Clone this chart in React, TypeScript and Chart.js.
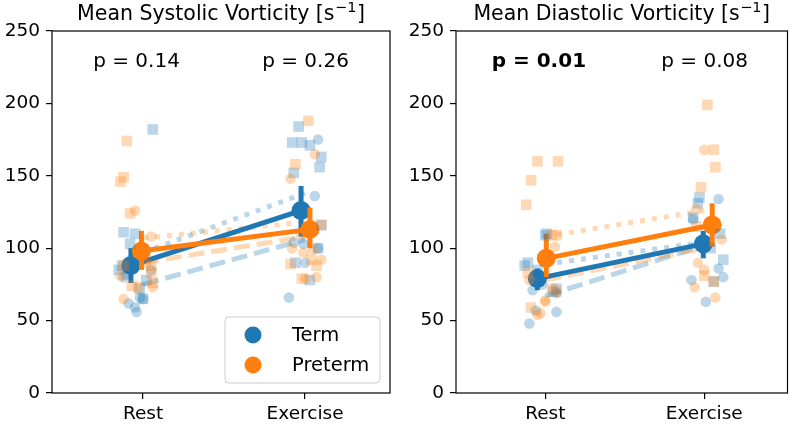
import React, { useEffect, useRef } from 'react';
import { Chart, registerables } from 'chart.js';
Chart.register(...registerables);

type P = [number, number]; // [jitter, value]

const categories = ['Rest', 'Exercise'];
const groupNames = ['Term', 'Preterm'];
const yMin = 0;
const yMax = 250;
const yStep = 50;

// ---------- Mean Systolic Vorticity ----------
const sysTermSqRest: P[] = [[-0.13, 88], [-0.15, 85], [-0.12, 111], [-0.05, 110], [-0.08, 103], [0.06, 182], [-0.02, 72], [0.0, 65], [-0.1, 82], [0.02, 78]];
const sysTermCiRest: P[] = [[-0.09, 62], [-0.05, 59], [-0.04, 56], [-0.02, 66], [0.0, 65], [-0.12, 80], [0.05, 85]];
const sysPreSqRest: P[] = [[-0.1, 174], [-0.12, 149], [-0.14, 146], [-0.08, 124], [0.05, 88], [0.05, 83], [-0.07, 74], [-0.03, 73], [0.06, 76], [0.0, 97], [-0.12, 88]];
const sysPreCiRest: P[] = [[-0.05, 126], [0.05, 108], [-0.12, 65], [0.06, 73], [-0.14, 81], [0.02, 90]];
const sysTermSqEx: P[] = [[-0.04, 184], [-0.08, 173], [-0.02, 173], [0.03, 171], [0.1, 163], [0.09, 156], [-0.07, 152], [0.1, 116], [-0.06, 90], [0.03, 78], [0.08, 100]];
const sysTermCiEx: P[] = [[0.08, 175], [0.06, 136], [-0.07, 104], [-0.01, 103], [0.08, 100], [0.0, 90], [-0.1, 66]];
const sysPreSqEx: P[] = [[0.02, 188], [-0.06, 158], [0.1, 116], [-0.09, 89], [0.07, 88], [-0.02, 79], [0.04, 92]];
const sysPreCiEx: P[] = [[0.06, 165], [-0.09, 148], [-0.08, 100], [-0.01, 97], [0.05, 99], [0.1, 92], [0.0, 79], [0.07, 80], [-0.03, 110]];
const sysTermMean = [88, 126];
const sysTermLo = [76, 108];
const sysTermHi = [100, 143];
const sysPreMean = [98, 113];
const sysPreLo = [85, 100];
const sysPreHi = [112, 128];
const sysTermDodge = [-0.075, -0.025];
const sysPreDodge = [-0.01, 0.03];
const sysTermDot = [97, 138];
const sysTermDash = [75, 106];
const sysPreDot = [107, 118];
const sysPreDash = [90, 108];
const sysPText = ['p = 0.14', 'p = 0.26'];
const sysPBold = [false, false];

// ---------- Mean Diastolic Vorticity ----------
const diaTermSqRest: P[] = [[0.01, 110], [-0.11, 90], [-0.13, 88], [0.07, 72], [0.05, 70], [0.0, 109], [-0.05, 85]];
const diaTermCiRest: P[] = [[-0.1, 48], [-0.06, 57], [0.07, 56], [-0.08, 71], [0.07, 69], [-0.02, 75]];
const diaPreSqRest: P[] = [[-0.05, 160], [0.08, 160], [-0.09, 147], [-0.12, 130], [-0.09, 59], [0.04, 109], [0.07, 109], [-0.11, 83], [0.04, 72], [0.07, 70]];
const diaPreCiRest: P[] = [[0.06, 101], [0.0, 63], [-0.03, 55], [-0.05, 54], [0.0, 64], [-0.1, 78]];
const diaTermSqEx: P[] = [[-0.03, 135], [-0.04, 131], [0.12, 92], [0.06, 77], [0.1, 110], [-0.07, 121], [0.04, 100]];
const diaTermCiEx: P[] = [[0.09, 134], [0.01, 63], [-0.08, 78], [0.12, 80], [0.09, 86], [-0.07, 120]];
const diaPreSqEx: P[] = [[0.02, 199], [0.06, 168], [0.07, 156], [-0.02, 142], [0.0, 81], [0.06, 77], [-0.05, 115]];
const diaPreCiEx: P[] = [[0.0, 168], [0.07, 66], [-0.06, 73], [-0.04, 90], [0.0, 85], [0.11, 106], [-0.05, 127], [0.05, 118]];
const diaTermMean = [79, 103];
const diaTermLo = [71, 93];
const diaTermHi = [86, 112];
const diaPreMean = [93, 116];
const diaPreLo = [80, 101];
const diaPreHi = [110, 131];
const diaTermDodge = [-0.05, -0.006];
const diaPreDodge = [0.006, 0.05];
const diaTermDot = [89, 104];
const diaTermDash = [67, 102];
const diaPreDot = [108, 126];
const diaPreDash = [78, 100];
const diaPText = ['p = 0.01', 'p = 0.08'];
const diaPBold = [true, false];

const BLUE = '#1f77b4';
const ORANGE = '#ff7f0e';
const BLUE_A = 'rgba(31,119,180,0.3)';
const ORANGE_A = 'rgba(255,127,14,0.3)';
const FONT = '"DejaVu Sans", sans-serif';

interface GroupData {
  sqRest: P[]; ciRest: P[]; sqEx: P[]; ciEx: P[];
  mean: number[]; lo: number[]; hi: number[]; dodge: number[];
  dot: number[]; dash: number[];
}
interface PanelData {
  title: string;
  groups: GroupData[];
  pText: string[];
  pBold: boolean[];
  legend: boolean;
}

const panels: PanelData[] = [
  {
    title: 'Mean Systolic Vorticity [s',
    groups: [
      { sqRest: sysTermSqRest, ciRest: sysTermCiRest, sqEx: sysTermSqEx, ciEx: sysTermCiEx, mean: sysTermMean, lo: sysTermLo, hi: sysTermHi, dodge: sysTermDodge, dot: sysTermDot, dash: sysTermDash },
      { sqRest: sysPreSqRest, ciRest: sysPreCiRest, sqEx: sysPreSqEx, ciEx: sysPreCiEx, mean: sysPreMean, lo: sysPreLo, hi: sysPreHi, dodge: sysPreDodge, dot: sysPreDot, dash: sysPreDash },
    ],
    pText: sysPText,
    pBold: sysPBold,
    legend: true,
  },
  {
    title: 'Mean Diastolic Vorticity [s',
    groups: [
      { sqRest: diaTermSqRest, ciRest: diaTermCiRest, sqEx: diaTermSqEx, ciEx: diaTermCiEx, mean: diaTermMean, lo: diaTermLo, hi: diaTermHi, dodge: diaTermDodge, dot: diaTermDot, dash: diaTermDash },
      { sqRest: diaPreSqRest, ciRest: diaPreCiRest, sqEx: diaPreSqEx, ciEx: diaPreCiEx, mean: diaPreMean, lo: diaPreLo, hi: diaPreHi, dodge: diaPreDodge, dot: diaPreDot, dash: diaPreDash },
    ],
    pText: diaPText,
    pBold: diaPBold,
    legend: false,
  },
];

const colors = [BLUE, ORANGE];
const colorsA = [BLUE_A, ORANGE_A];

function pts(rest: P[], ex: P[]) {
  return [
    ...rest.map(([j, v]) => ({ x: 0 + j, y: v })),
    ...ex.map(([j, v]) => ({ x: 1 + j, y: v })),
  ];
}

function buildDatasets(panel: PanelData) {
  const ds: any[] = [];
  // subgroup lines
  panel.groups.forEach((g, gi) => {
    ds.push({
      data: [{ x: 0, y: g.dot[0] }, { x: 1, y: g.dot[1] }],
      showLine: true, borderColor: colorsA[gi], borderWidth: 5, borderDash: [5, 7],
      pointRadius: 0, borderCapStyle: 'butt',
    });
    ds.push({
      data: [{ x: 0, y: g.dash[0] }, { x: 1, y: g.dash[1] }],
      showLine: true, borderColor: colorsA[gi], borderWidth: 5, borderDash: [16, 7],
      pointRadius: 0, borderCapStyle: 'butt',
    });
  });
  // means + error bars
  panel.groups.forEach((g, gi) => {
    ds.push({
      data: g.mean.map((m, i) => ({ x: i + g.dodge[i], y: m })),
      showLine: true, borderColor: colors[gi], borderWidth: 5,
      pointRadius: 9.5, pointBackgroundColor: colors[gi], pointBorderWidth: 0,
    });
    g.mean.forEach((_, i) => {
      ds.push({
        data: [{ x: i + g.dodge[i], y: g.lo[i] }, { x: i + g.dodge[i], y: g.hi[i] }],
        showLine: true, borderColor: colors[gi], borderWidth: 5, pointRadius: 0,
      });
    });
  });
  // scatter points on top
  panel.groups.forEach((g, gi) => {
    ds.push({
      data: pts(g.sqRest, g.sqEx), showLine: false, pointStyle: 'rect',
      pointRadius: 7.5, pointBackgroundColor: colorsA[gi], pointBorderWidth: 0,
    });
    ds.push({
      data: pts(g.ciRest, g.ciEx), showLine: false, pointStyle: 'circle',
      pointRadius: 5.3, pointBackgroundColor: colorsA[gi], pointBorderWidth: 0,
    });
  });
  ds.forEach((d, i) => { d.order = -i; d.clip = false; });
  return ds;
}

function Panel({ panel, left, width, yAxisWidth, rightPad }: { panel: PanelData; left: number; width: number; yAxisWidth: number; rightPad: number }) {
  const ref = useRef<HTMLCanvasElement>(null);
  useEffect(() => {
    const canvas = ref.current!;
    const decor = {
      id: 'decor',
      afterDraw(chart: any) {
        const { ctx, chartArea: a } = chart;
        ctx.save();
        // frame
        ctx.strokeStyle = '#000';
        ctx.lineWidth = 1.2;
        ctx.strokeRect(a.left, a.top, a.right - a.left, a.bottom - a.top);
        // title
        ctx.fillStyle = '#000';
        ctx.textBaseline = 'alphabetic';
        ctx.font = `20.5px ${FONT}`;
        const mainW = ctx.measureText(panel.title).width;
        ctx.font = `14.5px ${FONT}`;
        const supW = ctx.measureText('\u22121').width;
        ctx.font = `20.5px ${FONT}`;
        const tailW = ctx.measureText(']').width;
        const total = mainW + supW + 1 + tailW;
        let tx = (a.left + a.right) / 2 - total / 2;
        const ty = 20;
        ctx.textAlign = 'left';
        ctx.fillText(panel.title, tx, ty);
        tx += mainW + 0.5;
        ctx.font = `14.5px ${FONT}`;
        ctx.fillText('\u22121', tx, ty - 8);
        tx += supW + 0.5;
        ctx.font = `20.5px ${FONT}`;
        ctx.fillText(']', tx, ty);
        // p-values
        const w = a.right - a.left;
        const h = a.bottom - a.top;
        ctx.textAlign = 'center';
        panel.pText.forEach((t, i) => {
          ctx.font = `${panel.pBold[i] ? 'bold ' : ''}20px ${FONT}`;
          ctx.fillText(t, a.left + (i === 0 ? 0.25 : 0.75) * w, a.top + 0.0995 * h);
        });
        // legend
        if (panel.legend) {
          const bw = 155, bh = 66;
          const bx = a.right - 10 - bw;
          const by = a.bottom - 10 - bh;
          ctx.beginPath();
          ctx.roundRect(bx, by, bw, bh, 4);
          ctx.fillStyle = 'rgba(255,255,255,0.8)';
          ctx.fill();
          ctx.strokeStyle = '#cccccc';
          ctx.lineWidth = 1;
          ctx.stroke();
          groupNames.forEach((name, i) => {
            const cy = by + 18 + i * 30;
            ctx.beginPath();
            ctx.arc(bx + 28, cy, 8.5, 0, Math.PI * 2);
            ctx.fillStyle = colors[i];
            ctx.fill();
            ctx.fillStyle = '#000';
            ctx.font = `19.5px ${FONT}`;
            ctx.textAlign = 'left';
            ctx.textBaseline = 'middle';
            ctx.fillText(name, bx + 67, cy + 1);
          });
        }
        ctx.restore();
      },
    };
    const chart = new Chart(canvas, {
      type: 'scatter',
      data: { datasets: buildDatasets(panel) },
      options: {
        animation: false,
        responsive: false,
        devicePixelRatio: 1,
        layout: { padding: { top: 31, right: rightPad, bottom: 0, left: 0 } },
        plugins: { legend: { display: false }, tooltip: { enabled: false }, title: { display: false } },
        scales: {
          x: {
            type: 'linear', min: -0.562, max: 1.524,
            afterBuildTicks: (s: any) => { s.ticks = [{ value: 0 }, { value: 1 }]; },
            afterFit: (s: any) => { s.height = 31; },
            ticks: {
              callback: (v: any) => categories[v as number] ?? '',
              color: '#000', font: { family: FONT, size: 18.5 }, padding: 4,
              maxRotation: 0, autoSkip: false,
            },
            grid: { display: true, drawOnChartArea: false, drawTicks: true, tickLength: 6, color: '#000', lineWidth: 1.2 },
            border: { display: false },
          },
          y: {
            min: yMin, max: yMax,
            afterFit: (s: any) => { s.width = yAxisWidth; },
            ticks: { stepSize: yStep, color: '#000', font: { family: FONT, size: 18.5 }, padding: 6 },
            grid: { display: true, drawOnChartArea: false, drawTicks: true, tickLength: 6, color: '#000', lineWidth: 1.2 },
            border: { display: false },
          },
        },
      } as any,
      plugins: [decor],
    });
    return () => chart.destroy();
  }, [panel, yAxisWidth, rightPad]);
  return (
    <canvas ref={ref} width={width} height={424} style={{ position: 'absolute', left, top: 0, width, height: 424 }} />
  );
}

export default function App() {
  return (
    <div style={{ position: 'fixed', left: 0, top: 0, width: 797, height: 424, background: '#fff' }}>
      <Panel panel={panels[0]} left={0} width={400} yAxisWidth={52} rightPad={10} />
      <Panel panel={panels[1]} left={400} width={397} yAxisWidth={56} rightPad={5} />
    </div>
  );
}
